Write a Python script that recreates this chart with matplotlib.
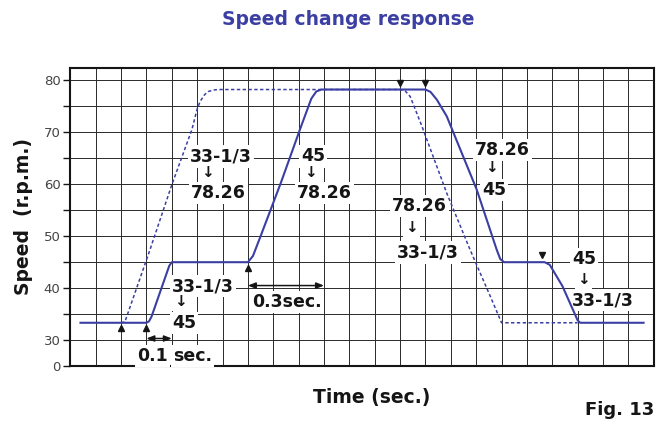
import matplotlib.pyplot as plt
import matplotlib.transforms as mtransforms
import numpy as np

# 45 rpm path: 33-1/3 -> 45 -> 78.26 -> 45 -> 33-1/3
solid_t = [0.04, 0.30, 0.31, 0.32, 0.39, 0.40, 0.70, 0.72, 0.75, 0.83, 0.91,
           0.95, 0.97, 0.99, 1.40, 1.42, 1.445, 1.484, 1.602, 1.681, 1.695,
           1.71, 1.87, 1.89, 1.94, 2.00, 2.01, 2.26]
solid_rpm = [33.33, 33.33, 33.6, 34.5, 44.3, 45, 45, 46.2, 50, 60.3, 71.2,
             76.5, 77.9, 78.26, 78.26, 77.8, 76.3, 73.1, 59.0, 47.4, 45.6,
             45, 45, 44.5, 40.4, 33.8, 33.33, 33.33]

# direct 33-1/3 <-> 78.26 path
dashed_t = [0.20, 0.215, 0.23, 0.314, 0.40, 0.479, 0.50, 0.512, 0.53, 0.545,
            0.57, 0.59, 1.30, 1.32, 1.34, 1.386, 1.484, 1.576, 1.655, 1.69,
            1.70, 2.0]
dashed_rpm = [33.33, 33.5, 35.6, 47.4, 59.9, 70.5, 74.5, 76.0, 77.3, 77.9,
              78.2, 78.26, 78.26, 78.0, 76.9, 71.2, 58.3, 47.4, 38.5, 34.5,
              33.33, 33.33]

up_marks_t = [0.2, 0.3, 0.7]
up_marks_rpm = [33.33, 33.33, 45]
down_marks_t = [1.3, 1.4, 1.86]
down_marks_rpm = [78.26, 78.26, 45]

y_ticks = [25, 30, 40, 50, 60, 70, 80]
y_tick_labels = ['0', '30', '40', '50', '60', '70', '80']
y_minor = [35, 45, 55, 65, 75]
x_grid = np.arange(1, 23) / 10

BLUE = '#3b3fa3'
INK = '#151515'
FONT = 'DejaVu Sans'

fig = plt.figure(figsize=(6.61, 4.21), dpi=100)
ax = fig.add_axes([0.1064, 0.1306, 0.8826, 0.7078])

ax.plot(dashed_t, dashed_rpm, color=BLUE, lw=1.1, dashes=(2.2, 1.6), zorder=4)
ax.plot(solid_t, solid_rpm, color=BLUE, lw=1.5, zorder=5)

below = mtransforms.offset_copy(ax.transData, fig=fig, x=0, y=-4, units='points')
above = mtransforms.offset_copy(ax.transData, fig=fig, x=0, y=5, units='points')
ax.plot(up_marks_t, up_marks_rpm, '^', ms=4, color=INK, transform=below, zorder=6)
ax.plot(down_marks_t, down_marks_rpm, 'v', ms=4, color=INK, transform=above, zorder=6)

box = dict(facecolor='white', edgecolor='none', pad=1.5)


def label(x, y, s):
    ax.text(x, y, s, ha='left', va='baseline', fontsize=12.5, fontweight='bold',
            color=INK, family=FONT, bbox=box, zorder=3)


def down_arrow(x, y):
    ax.text(x, y, '↓', ha='center', va='center', fontsize=11, fontweight='bold',
            color=INK, family=FONT, bbox=box, zorder=3)


label(0.472, 64.4, '33-1/3')
down_arrow(0.539, 62.2)
label(0.476, 57.4, '78.26')

label(0.909, 64.4, '45')
down_arrow(0.948, 62.2)
label(0.894, 57.4, '78.26')

label(1.596, 65.7, '78.26')
down_arrow(1.662, 63.2)
label(1.622, 58.0, '45')

label(1.267, 54.9, '78.26')
down_arrow(1.346, 51.7)
label(1.287, 45.9, '33-1/3')

label(0.400, 39.4, '33-1/3')
down_arrow(0.433, 37.4)
label(0.400, 32.4, '45')

label(1.977, 44.6, '45')
down_arrow(2.023, 41.6)
label(1.977, 36.7, '33-1/3')

label(0.715, 36.3, '0.3sec.')
label(0.262, 25.9, '0.1')
label(0.405, 25.9, 'sec.')

arrow = dict(arrowstyle='<|-|>,head_width=0.18,head_length=0.45', color=INK,
             lw=1.1, shrinkA=0, shrinkB=0)
ax.annotate('', xy=(0.4, 30.3), xytext=(0.3, 30.3), arrowprops=arrow, zorder=6)
ax.annotate('', xy=(1.0, 40.5), xytext=(0.7, 40.5), arrowprops=arrow, zorder=6)

ax.set_xlim(0, 2.3)
ax.set_ylim(25, 82.4)
ax.set_xticks(x_grid)
ax.set_xticklabels([])
ax.set_yticks(y_ticks)
ax.set_yticklabels(y_tick_labels)
ax.set_yticks(y_minor, minor=True)
ax.tick_params(axis='x', length=0)
ax.tick_params(axis='y', which='both', direction='out', length=5, width=1,
               color=INK, labelsize=9.5, labelcolor='#444444', pad=2)
ax.grid(True, which='both', color='#2a2a2a', lw=0.7)
ax.set_axisbelow(True)
for spine in ax.spines.values():
    spine.set_linewidth(1.5)
    spine.set_color(INK)

fig.text(0.527, 0.94, 'Speed change response', ha='center', va='baseline',
         fontsize=13.5, fontweight='bold', color=BLUE, family=FONT)
fig.text(0.035, 0.485, 'Speed  (r.p.m.)', ha='center', va='center', rotation=90,
         fontsize=13.5, fontweight='bold', color=INK, family=FONT)
fig.text(0.562, 0.055, 'Time (sec.)', ha='center', va='center',
         fontsize=13.5, fontweight='bold', color=INK, family=FONT)
fig.text(0.99, 0.025, 'Fig. 13', ha='right', va='center',
         fontsize=13, fontweight='bold', color=INK, family=FONT)

plt.savefig('out.png', dpi=100)
